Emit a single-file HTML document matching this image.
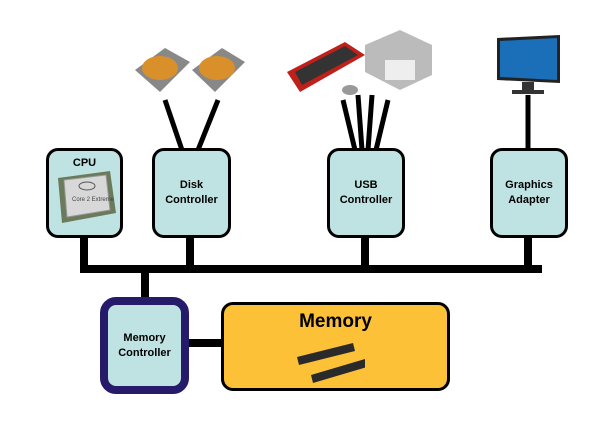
<!DOCTYPE html>
<html><head><style>
body{margin:0;background:#fff;width:612px;height:421px;overflow:hidden;position:relative;font-family:"Liberation Sans",sans-serif}
.b{position:absolute;background:#bfe3e3;border:3px solid #000;border-radius:12px;box-sizing:border-box;font-weight:bold;font-size:11px;text-align:center;display:flex;align-items:center;justify-content:center;line-height:15px}
.l{position:absolute;background:#000}
</style></head><body>
<svg width="612" height="421" style="position:absolute;left:0;top:0">
<g stroke="#000" stroke-width="5" fill="none">
<line x1="165" y1="100" x2="182" y2="150"/><line x1="218" y1="100" x2="198" y2="150"/>
<line x1="343" y1="100" x2="355" y2="150"/><line x1="358" y1="95" x2="362" y2="150"/>
<line x1="372" y1="95" x2="368" y2="150"/><line x1="388" y1="100" x2="376" y2="150"/>
<line x1="528" y1="95" x2="528" y2="150"/>
</g>
<!-- disks -->
<g><polygon points="135,70 165,48 190,62 160,92" fill="#888"/><ellipse cx="160" cy="68" rx="18" ry="12" fill="#d9902a"/>
<polygon points="192,70 222,48 245,62 215,92" fill="#888"/><ellipse cx="217" cy="68" rx="18" ry="12" fill="#d9902a"/></g>
<!-- keyboard -->
<polygon points="287,72 345,42 365,55 300,92" fill="#c0201a"/><polygon points="295,72 345,46 358,55 302,85" fill="#333"/>
<ellipse cx="350" cy="90" rx="8" ry="5" fill="#999"/>
<!-- printer -->
<polygon points="365,45 400,30 432,45 432,75 400,90 365,72" fill="#bbb"/><rect x="385" y="60" width="30" height="20" fill="#eee"/>
<!-- monitor -->
<polygon points="497,38 560,35 560,83 497,80" fill="#222"/><polygon points="500,41 557,38 557,80 500,77" fill="#1a6fb8"/>
<rect x="522" y="82" width="12" height="8" fill="#333"/><rect x="512" y="90" width="32" height="4" fill="#333"/>
</svg>
<div class="l" style="left:80px;top:265px;width:462px;height:8px"></div>
<div class="l" style="left:80px;top:236px;width:8px;height:33px"></div>
<div class="l" style="left:186px;top:236px;width:8px;height:33px"></div>
<div class="l" style="left:361px;top:236px;width:8px;height:33px"></div>
<div class="l" style="left:524px;top:236px;width:8px;height:33px"></div>
<div class="l" style="left:141px;top:270px;width:8px;height:30px"></div>
<div class="l" style="left:186px;top:339px;width:37px;height:8px"></div>
<div class="b" style="left:46px;top:148px;width:77px;height:90px;align-items:flex-start;padding-top:5px">CPU</div>
<svg width="70" height="60" style="position:absolute;left:50px;top:168px"><polygon points="8,10 60,3 66,45 12,55" fill="#6a7a5a"/><polygon points="14,12 56,7 60,42 17,49" fill="#d8d8d8" stroke="#999"/><ellipse cx="37" cy="18" rx="8" ry="4" fill="none" stroke="#555"/><text x="22" y="33" font-size="6" fill="#444" font-family="Liberation Sans">Core 2 Extreme</text></svg>
<div class="b" style="left:152px;top:148px;width:79px;height:90px">Disk<br>Controller</div>
<div class="b" style="left:327px;top:148px;width:78px;height:90px">USB<br>Controller</div>
<div class="b" style="left:490px;top:148px;width:78px;height:90px">Graphics<br>Adapter</div>
<div class="b" style="left:100px;top:297px;width:89px;height:97px;border:8px solid #261a6b;border-radius:16px">Memory<br>Controller</div>
<div class="b" style="left:221px;top:302px;width:229px;height:89px;background:#fcc136;align-items:flex-start;padding-top:6px;font-size:19px;line-height:22px">Memory</div>
<svg width="70" height="50" style="position:absolute;left:295px;top:335px"><polygon points="2,22 58,8 60,16 4,30" fill="#2a2a2a"/><polygon points="16,40 70,24 72,32 18,48" fill="#2a2a2a"/></svg>
</body></html>
